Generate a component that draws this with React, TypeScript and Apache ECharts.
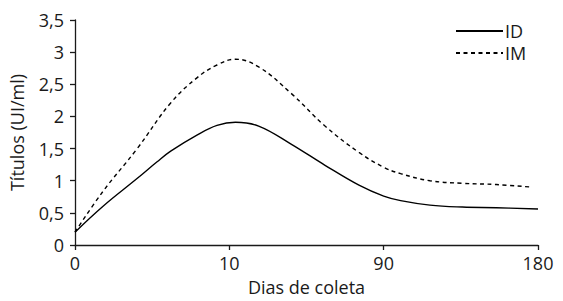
import React, { useEffect, useRef } from "react";
import * as echarts from "echarts";

const xTickLabels = ["0", "10", "90", "180"];
const yTicks = [0, 0.5, 1, 1.5, 2, 2.5, 3, 3.5];

const idPositions = [0, 0.18, 0.4, 0.53, 0.62, 0.79, 0.92, 1.04, 1.19, 1.4, 1.62, 1.84, 2.0, 2.11, 2.3, 2.51, 2.73, 3.0];
const idValues = [0.2, 0.6, 1.03, 1.29, 1.46, 1.71, 1.86, 1.91, 1.85, 1.57, 1.24, 0.93, 0.76, 0.69, 0.62, 0.59, 0.58, 0.56];

const imPositions = [0, 0.18, 0.4, 0.62, 0.79, 0.92, 1.04, 1.19, 1.4, 1.62, 1.84, 2.0, 2.11, 2.3, 2.51, 2.73, 2.96];
const imValues = [0.2, 0.83, 1.49, 2.21, 2.6, 2.8, 2.89, 2.77, 2.36, 1.85, 1.44, 1.21, 1.11, 1.0, 0.96, 0.94, 0.9];

const FONT = "Open Sans";
const FS = 18;
const INK = "#1a1a1a";

export default function App() {
  const ref = useRef<HTMLDivElement>(null);
  useEffect(() => {
    if (!ref.current) return;
    const chart = echarts.init(ref.current, null, { renderer: "svg" });
    chart.setOption({
      animation: false,
      backgroundColor: "#fff",
      grid: { left: 75, right: 25, top: 20, bottom: 54, containLabel: false },
      legend: {
        orient: "vertical",
        left: 455,
        top: 22,
        padding: 0,
        itemWidth: 47,
        itemHeight: 14,
        itemGap: 4,
        itemStyle: { opacity: 0 },
        textStyle: { fontFamily: FONT, fontSize: FS, lineHeight: 18, color: INK, padding: [0, 0, 0, -3] },
        data: ["ID", "IM"],
      },
      xAxis: {
        type: "value",
        min: 0,
        max: 3,
        interval: 1,
        name: "Dias de coleta",
        nameLocation: "middle",
        nameGap: 33,
        nameTextStyle: { fontFamily: FONT, fontSize: FS, color: INK },
        axisLine: { lineStyle: { color: INK, width: 1.3 } },
        axisTick: { show: true, length: 5, lineStyle: { color: INK, width: 1.3 } },
        axisLabel: {
          fontFamily: FONT,
          fontSize: FS,
          color: INK,
          margin: 9,
          formatter: (v: number) => xTickLabels[Math.round(v)] ?? "",
        },
        splitLine: { show: false },
      },
      yAxis: {
        type: "value",
        min: 0,
        max: 3.5,
        interval: 0.5,
        name: "Títulos (UI/ml)",
        nameLocation: "middle",
        nameGap: 49,
        nameRotate: 90,
        nameTextStyle: { fontFamily: FONT, fontSize: FS, color: INK },
        axisLine: { show: true, lineStyle: { color: INK, width: 1.3 } },
        axisTick: { show: true, length: 5, lineStyle: { color: INK, width: 1.3 } },
        axisLabel: {
          fontFamily: FONT,
          fontSize: FS,
          color: INK,
          margin: 11,
          formatter: (v: number) => {
            const t = yTicks.find((y) => Math.abs(y - v) < 1e-6);
            return t === undefined ? "" : String(t).replace(".", ",");
          },
        },
        splitLine: { show: false },
      },
      series: [
        {
          name: "ID",
          type: "line",
          smooth: 0.4,
          symbol: "none",
          lineStyle: { color: "#000", width: 1.4, type: "solid" },
          itemStyle: { color: "#000" },
          data: idPositions.map((x, i) => [x, idValues[i]]),
        },
        {
          name: "IM",
          type: "line",
          smooth: 0.4,
          symbol: "none",
          lineStyle: { color: "#000", width: 1.4, type: [4, 3.5] },
          itemStyle: { color: "#000" },
          data: imPositions.map((x, i) => [x, imValues[i]]),
        },
      ],
    });
    return () => chart.dispose();
  }, []);
  return <div ref={ref} style={{ width: 563, height: 301, position: "absolute", left: 0, top: 0 }} />;
}
